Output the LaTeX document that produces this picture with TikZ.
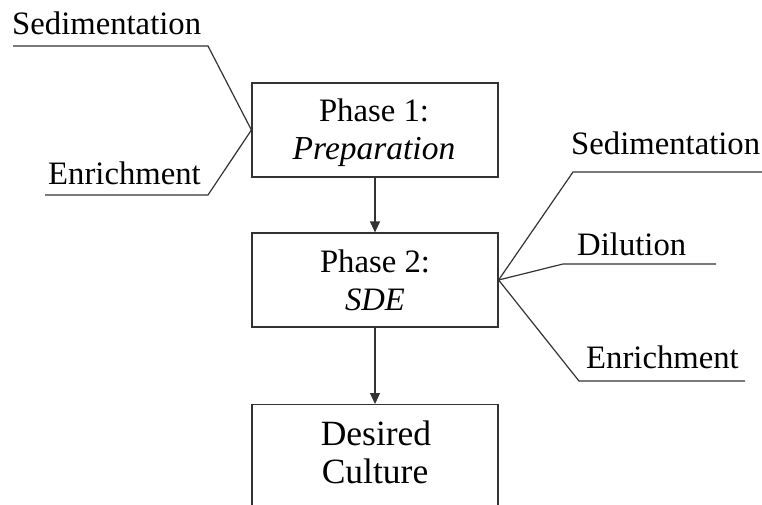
\documentclass[tikz,border=0pt]{standalone}
\usepackage{fontspec}
\setmainfont{Liberation Serif}
\usetikzlibrary{arrows.meta}
\begin{document}
\begin{tikzpicture}[x=1pt,y=-1pt,
  ln/.style={draw=black!80,line width=1.2pt},
  phasebox/.style={ln,minimum width=246pt,minimum height=94pt,inner sep=0pt},
  lbl/.style={anchor=base west,inner sep=0pt,font=\fontsize{32.7}{36}\selectfont},
  ctr/.style={anchor=base,inner sep=0pt,font=\fontsize{32.7}{36}\selectfont},
  big/.style={anchor=base,inner sep=0pt,font=\fontsize{35.5}{36}\selectfont},
  arr/.style={ln,-{Triangle[width=10pt,length=11pt]}}]
\useasboundingbox (0,0) rectangle (762,505);
\clip (0,0) rectangle (762,505);
% boxes
\node[phasebox] (p1) at (375,130) {};
\node[phasebox] (p2) at (375,280) {};
\node[phasebox,minimum height=200pt,anchor=north] (dc) at (375,404) {};
% box texts
\node[ctr] (p1a) at (374,122) {Phase 1:};
\node[ctr,font=\fontsize{33.5}{36}\selectfont] (p1b) at (374,160) {\textit{Preparation}};
\node[ctr] (p2a) at (375,272) {Phase 2:};
\node[ctr] (p2b) at (375,310) {\textit{SDE}};
\node[big] (dca) at (376,445) {Desired};
\node[big] (dcb) at (375,483) {Culture};
% arrows
\draw[arr] (p1) -- (p2);
\draw[arr] (p2) -- (dc);
% left labels
\node[lbl] (ls) at (12,35) {Sedimentation};
\node[lbl] (le) at (48,185) {Enrichment};
\coordinate (lsa) at (13,46);
\coordinate (lsb) at (208,46);
\coordinate (lea) at (45,195);
\coordinate (leb) at (208,195);
\draw[ln] (lsa) -- (lsb) -- (p1.west);
\draw[ln] (lea) -- (leb) -- (p1.west);
% right labels
\node[lbl] (rs) at (571,155) {Sedimentation};
\node[lbl] (rd) at (577,255) {Dilution};
\node[lbl] (re) at (586,368) {Enrichment};
\coordinate (rsa) at (573,172);
\coordinate (rsb) at (762,172);
\coordinate (rda) at (563,264);
\coordinate (rdb) at (716,264);
\coordinate (rea) at (579,381);
\coordinate (reb) at (745,381);
\draw[ln] (p2.east) -- (rsa) -- (rsb);
\draw[ln] (p2.east) -- (rda) -- (rdb);
\draw[ln] (p2.east) -- (rea) -- (reb);
\end{tikzpicture}
\end{document}
